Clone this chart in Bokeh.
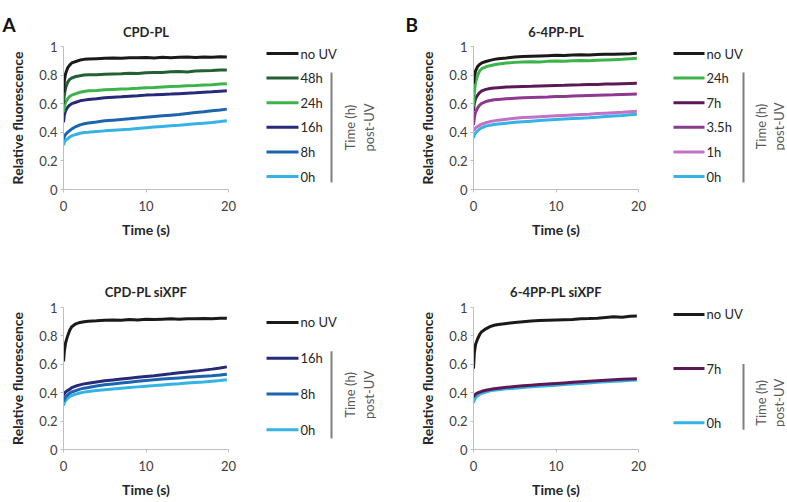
import math
from bokeh.plotting import figure
from bokeh.layouts import row, column
from bokeh.models import Range1d, FixedTicker, Title
from bokeh.core.properties import value
from bokeh.embed import file_html
from bokeh.resources import INLINE

FONT = "Lato"

# ---------------- data ----------------
time_s = [0, 0.1, 0.25, 0.5, 0.75, 1, 1.5, 2, 2.5, 3, 4, 5, 6, 7, 8, 9,
          10, 11, 12, 13, 14, 15, 16, 17, 18, 19, 19.8]

x_ticks = [0, 10, 20]
y_ticks = [0, 0.2, 0.4, 0.6, 0.8, 1]
y_tick_labels = ["0", "0.2", "0.4", "0.6", "0.8", "1"]

panel_letters = ["A", "B"]

# Panel A: CPD-PL
a_title = "CPD-PL"
a_labels = ["no UV", "48h", "24h", "16h", "8h", "0h"]
a_colors = ["#1a1a1a", "#236133", "#3cb44a", "#262a78", "#1c65ae", "#35b3e6"]
a_noUV = [0.68, 0.76, 0.81, 0.85, 0.87, 0.885, 0.895, 0.905, 0.91, 0.912, 0.915, 0.918, 0.92, 0.917,
          0.922, 0.921, 0.923, 0.92, 0.925, 0.922, 0.924, 0.926, 0.923, 0.927, 0.925, 0.928, 0.927]
a_48h = [0.60, 0.66, 0.71, 0.75, 0.77, 0.78, 0.79, 0.795, 0.80, 0.802, 0.803, 0.806, 0.808, 0.81,
         0.813, 0.812, 0.817, 0.818, 0.818, 0.823, 0.825, 0.822, 0.828, 0.83, 0.832, 0.835, 0.836]
a_24h = [0.54, 0.58, 0.61, 0.635, 0.65, 0.66, 0.67, 0.68, 0.685, 0.69, 0.693, 0.697, 0.70, 0.703,
         0.705, 0.708, 0.712, 0.714, 0.717, 0.72, 0.722, 0.725, 0.727, 0.73, 0.733, 0.737, 0.74]
a_16h = [0.47, 0.52, 0.55, 0.575, 0.59, 0.60, 0.61, 0.62, 0.625, 0.63, 0.635, 0.642, 0.645, 0.648,
         0.652, 0.655, 0.66, 0.662, 0.665, 0.667, 0.67, 0.673, 0.676, 0.68, 0.683, 0.687, 0.69]
a_8h = [0.35, 0.37, 0.385, 0.40, 0.412, 0.423, 0.44, 0.452, 0.46, 0.465, 0.472, 0.48, 0.485, 0.49,
        0.495, 0.5, 0.505, 0.51, 0.515, 0.52, 0.525, 0.532, 0.538, 0.543, 0.55, 0.556, 0.562]
a_0h = [0.31, 0.33, 0.345, 0.355, 0.367, 0.375, 0.385, 0.393, 0.398, 0.40, 0.405, 0.41, 0.414, 0.418,
        0.422, 0.427, 0.432, 0.437, 0.441, 0.445, 0.449, 0.454, 0.459, 0.464, 0.469, 0.475, 0.48]

# Panel B: 6-4PP-PL
b_title = "6-4PP-PL"
b_labels = ["no UV", "24h", "7h", "3.5h", "1h", "0h"]
b_colors = ["#1a1a1a", "#3cb44a", "#5b1a55", "#8b3a8f", "#c072c4", "#35b3e6"]
b_noUV = [0.74, 0.79, 0.83, 0.86, 0.875, 0.885, 0.895, 0.903, 0.91, 0.915, 0.92, 0.926, 0.93, 0.932,
          0.934, 0.936, 0.938, 0.937, 0.94, 0.942, 0.94, 0.944, 0.946, 0.945, 0.948, 0.95, 0.952]
b_24h = [0.58, 0.68, 0.75, 0.80, 0.83, 0.845, 0.858, 0.866, 0.872, 0.877, 0.884, 0.889, 0.892, 0.894,
         0.892, 0.896, 0.898, 0.897, 0.9, 0.902, 0.9, 0.904, 0.906, 0.908, 0.91, 0.914, 0.917]
b_7h = [0.55, 0.6, 0.635, 0.66, 0.678, 0.69, 0.7, 0.706, 0.71, 0.712, 0.716, 0.719, 0.721, 0.722,
        0.724, 0.726, 0.728, 0.729, 0.731, 0.732, 0.734, 0.735, 0.737, 0.738, 0.74, 0.742, 0.743]
b_3_5h = [0.45, 0.5, 0.54, 0.57, 0.59, 0.603, 0.615, 0.622, 0.627, 0.63, 0.634, 0.638, 0.641, 0.643,
          0.645, 0.647, 0.65, 0.651, 0.653, 0.655, 0.657, 0.659, 0.661, 0.662, 0.664, 0.666, 0.667]
b_1h = [0.41, 0.42, 0.43, 0.44, 0.45, 0.457, 0.467, 0.475, 0.48, 0.485, 0.492, 0.499, 0.503, 0.506,
        0.509, 0.512, 0.515, 0.518, 0.521, 0.524, 0.527, 0.531, 0.534, 0.537, 0.54, 0.544, 0.547]
b_0h = [0.36, 0.38, 0.395, 0.41, 0.423, 0.432, 0.443, 0.45, 0.455, 0.458, 0.464, 0.47, 0.474, 0.478,
        0.482, 0.486, 0.49, 0.493, 0.496, 0.499, 0.502, 0.506, 0.51, 0.514, 0.518, 0.523, 0.527]

# Panel C: CPD-PL siXPF
c_title = "CPD-PL siXPF"
c_labels = ["no UV", "16h", "8h", "0h"]
c_colors = ["#1a1a1a", "#262a78", "#1c65ae", "#35b3e6"]
c_noUV = [0.62, 0.69, 0.75, 0.8, 0.84, 0.865, 0.885, 0.895, 0.9, 0.903, 0.906, 0.91, 0.912, 0.91,
          0.915, 0.912, 0.917, 0.915, 0.918, 0.92, 0.917, 0.921, 0.92, 0.923, 0.92, 0.925, 0.924]
c_16h = [0.38, 0.395, 0.405, 0.415, 0.425, 0.435, 0.447, 0.455, 0.462, 0.467, 0.476, 0.484, 0.49, 0.496,
         0.502, 0.508, 0.514, 0.52, 0.527, 0.533, 0.54, 0.546, 0.552, 0.559, 0.566, 0.574, 0.582]
c_8h = [0.34, 0.355, 0.37, 0.385, 0.397, 0.405, 0.415, 0.425, 0.432, 0.437, 0.447, 0.456, 0.462, 0.468,
        0.474, 0.48, 0.486, 0.491, 0.496, 0.5, 0.504, 0.508, 0.512, 0.516, 0.52, 0.525, 0.53]
c_0h = [0.31, 0.33, 0.345, 0.36, 0.372, 0.38, 0.39, 0.398, 0.404, 0.408, 0.415, 0.421, 0.426, 0.431,
        0.436, 0.441, 0.446, 0.45, 0.455, 0.459, 0.463, 0.468, 0.472, 0.476, 0.481, 0.486, 0.491]

# Panel D: 6-4PP-PL siXPF
d_title = "6-4PP-PL siXPF"
d_labels = ["no UV", "7h", "0h"]
d_colors = ["#1a1a1a", "#5b1a55", "#35b3e6"]
d_noUV = [0.57, 0.68, 0.74, 0.78, 0.81, 0.83, 0.85, 0.865, 0.875, 0.88, 0.888, 0.895, 0.9, 0.905,
          0.908, 0.91, 0.912, 0.914, 0.916, 0.92, 0.922, 0.925, 0.93, 0.935, 0.932, 0.938, 0.94]
d_7h = [0.37, 0.38, 0.39, 0.398, 0.404, 0.41, 0.417, 0.423, 0.428, 0.432, 0.438, 0.444, 0.449, 0.453,
        0.457, 0.461, 0.465, 0.469, 0.473, 0.477, 0.481, 0.485, 0.488, 0.491, 0.494, 0.497, 0.499]
d_0h = [0.33, 0.35, 0.365, 0.378, 0.389, 0.396, 0.405, 0.413, 0.418, 0.421, 0.427, 0.432, 0.437, 0.441,
        0.445, 0.449, 0.453, 0.457, 0.461, 0.465, 0.469, 0.473, 0.477, 0.48, 0.483, 0.487, 0.49]

group_title = ["Time (h)", "post-UV"]

# ---------------- styling helpers ----------------
AXIS_GRAY = "#bfbfbf"
TEXT = "#262626"
TICK_TEXT = "#404040"


def make_plot(title, series, colors, width, height, left, right, top, bottom):
    p = figure(width=width, height=height, x_range=Range1d(0, 20), y_range=Range1d(0, 1),
               output_backend="svg", toolbar_location=None, tools="", title=None,
               min_border_left=left, min_border_right=right,
               min_border_top=top, min_border_bottom=bottom)
    if title:
        p.add_layout(Title(text=title, align="center", text_font=FONT, text_font_size="13px",
                           text_font_style="bold", text_color=TEXT, standoff=15), "above")
    p.outline_line_color = None
    p.xgrid.visible = False
    p.ygrid.visible = False
    p.background_fill_color = "white"
    p.border_fill_color = "white"

    p.xaxis.ticker = FixedTicker(ticks=x_ticks)
    p.yaxis.ticker = FixedTicker(ticks=y_ticks)
    p.yaxis.major_label_overrides = {t: s for t, s in zip(y_ticks, y_tick_labels)}
    p.xaxis.axis_label = "Time (s)"
    p.yaxis.axis_label = "Relative fluorescence"
    for ax in (p.xaxis[0], p.yaxis[0]):
        ax.axis_line_color = AXIS_GRAY
        ax.major_tick_line_color = AXIS_GRAY
        ax.minor_tick_line_color = None
        ax.major_tick_in = 0
        ax.major_tick_out = 3
        ax.major_label_text_font = FONT
        ax.major_label_text_font_size = "13px"
        ax.major_label_text_color = TICK_TEXT
        ax.axis_label_text_font = FONT
        ax.axis_label_text_font_size = "14px"
        ax.axis_label_text_font_style = "bold"
        ax.axis_label_text_color = TEXT
    p.xaxis.major_label_standoff = 8
    p.xaxis.axis_label_standoff = 7
    p.yaxis.major_label_standoff = 3
    p.yaxis.axis_label_standoff = 10

    # draw lowest first, "no UV" last
    for ys, c in reversed(list(zip(series, colors))):
        p.line(time_s, ys, line_color=c, line_width=3)
    return p


def make_legend(labels, colors, width, height, top, bottom, first_y, last_y, bar_top, bar_bot,
                text_y, line_x0, line_x1, text_x, bar_x, g1_x, g2_x):
    # y data coordinate = height - pixel row; the frame is aligned with the plot frame,
    # so data units map 1:1 to pixels of this figure's canvas
    p = figure(width=width, height=height, x_range=Range1d(0, width),
               y_range=Range1d(bottom, height - top),
               output_backend="svg", toolbar_location=None, tools="", title=None,
               x_axis_location=None, y_axis_location=None,
               min_border_left=0, min_border_right=0, min_border_top=top, min_border_bottom=bottom)
    p.outline_line_color = None
    p.xgrid.visible = False
    p.ygrid.visible = False
    n = len(labels)
    step = (last_y - first_y) / (n - 1)
    ys = [height - (first_y + i * step) for i in range(n)]
    p.segment(x0=[line_x0] * n, y0=ys, x1=[line_x1] * n, y1=ys, line_color=colors, line_width=3)
    p.text(x=[text_x] * n, y=ys, text=labels, text_font=value(FONT), text_font_size="13px",
           text_baseline="middle", text_align="left", text_color=TEXT)
    p.segment(x0=[bar_x], y0=[height - bar_top], x1=[bar_x], y1=[height - bar_bot],
              line_color="#7f7f7f", line_width=2)
    p.text(x=[g1_x, g2_x], y=[height - text_y] * 2, text=group_title, angle=math.pi / 2,
           text_font=value(FONT), text_font_size="13px", text_align="center",
           text_baseline="middle", text_color="#595959")
    return p


def make_header(width, height, letter_x, letter_base, title_x, title_mid, titles):
    p = figure(width=width, height=height, x_range=Range1d(0, width), y_range=Range1d(0, height),
               output_backend="svg", toolbar_location=None, tools="", title=None,
               x_axis_location=None, y_axis_location=None, min_border=0)
    p.outline_line_color = None
    p.xgrid.visible = False
    p.ygrid.visible = False
    p.text(x=letter_x, y=[height - letter_base] * len(letter_x), text=panel_letters,
           text_font=value(FONT), text_font_size="19px", text_font_style="bold",
           text_color="#111111", text_baseline="alphabetic", text_align="left")
    p.text(x=title_x, y=[height - title_mid] * len(title_x), text=titles,
           text_font=value(FONT), text_font_size="13px", text_font_style="bold",
           text_color=TEXT, text_baseline="middle", text_align="center")
    return p


H0, H1, H2 = 38, 210, 252
T1, B1 = 8, 59
T2, B2 = 59, 50
WA, WLA, WB, WLB = 248, 145, 253, 139
W = WA + WLA + WB + WLB

header = make_header(W, H0, [2, 405], 24, [63 + 82.5, WA + WLA + 80 + 82.5], 31, [a_title, b_title])

pA = make_plot(None, [a_noUV, a_48h, a_24h, a_16h, a_8h, a_0h], a_colors, WA, H1, 63, 20, T1, B1)
lA = make_legend(a_labels, a_colors, WLA, H1, T1, B1, 15, 138, 34, 144, 89, 18, 50, 52, 83, 101, 120)
pB = make_plot(None, [b_noUV, b_24h, b_7h, b_3_5h, b_1h, b_0h], b_colors, WB, H1, 80, 8, T1, B1)
lB = make_legend(b_labels, b_colors, WLB, H1, T1, B1, 15, 138, 34, 144, 88, 27, 58, 60, 97, 114, 132)

pC = make_plot(c_title, [c_noUV, c_16h, c_8h, c_0h], c_colors, WA, H2, 63, 20, T2, B2)
lC = make_legend(c_labels, c_colors, WLA, H2, T2, B2, 74, 182, 103, 191, 147, 18, 50, 52, 83, 101, 120)
pD = make_plot(d_title, [d_noUV, d_7h, d_0h], d_colors, WB, H2, 80, 8, T2, B2)
lD = make_legend(d_labels, d_colors, WLB, H2, T2, B2, 66, 175, 116, 182, 155, 27, 58, 60, 97, 114, 132)

layout = column(header,
                row(pA, lA, pB, lB, spacing=0),
                row(pC, lC, pD, lD, spacing=0), spacing=0)

open("out.html", "w").write(file_html(layout, INLINE))
